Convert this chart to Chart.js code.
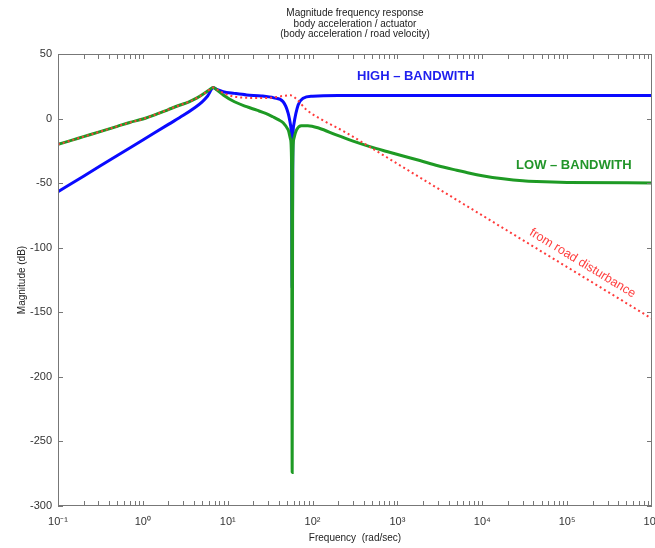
<!DOCTYPE html>
<html>
<head>
<meta charset="utf-8">
<script src="https://cdn.jsdelivr.net/npm/chart.js@4/dist/chart.umd.min.js"></script>
<style>
  html, body { margin: 0; padding: 0; background: #fff; }
</style>
</head>
<body>
<canvas id="bode" width="655" height="548"></canvas>
<script>
// frequencies in rad/sec, magnitudes in dB
let roadFreq = [0.1, 0.15, 0.2, 0.3, 0.5, 0.7, 1, 1.5, 2, 2.7, 3.5, 4.3, 5.15, 6, 6.75, 7.5, 9, 12, 20, 30, 45, 55, 65, 85, 122, 250, 473, 1167, 1e4, 1e5, 1e6];
let roadDb   = [-20, -16.5, -14, -10.5, -6, -3, -0.3, 3.8, 7, 10.3, 13, 15.8, 19, 22, 24, 22.5, 19.5, 17, 16, 16, 17.5, 18, 15, 6.7, 0, -11, -22, -37.7, -75, -115, -155];

let lowFreq = [0.1, 0.15, 0.2, 0.3, 0.5, 0.7, 1, 1.5, 2, 2.7, 3.5, 4.3, 5.15, 6, 6.75, 7.5, 8.85, 12, 16.7, 22, 28, 34, 40, 45, 51.6, 55, 56.7, 57.5, 58.3, 60, 64.7, 74, 88, 120, 190, 300, 473, 750, 1167, 1837, 3000, 5000, 7130, 1e4, 17600, 30000, 43500, 1e5, 1e6];
let lowDb   = [-20, -16.5, -14, -10.5, -6, -3, -0.3, 3.8, 7, 10.3, 13, 15.8, 19, 22, 24, 22, 18.3, 13, 9.2, 6.5, 4, 1.4, -1, -3.3, -8.8, -16, -40, -274, -40, -16, -8.8, -5.5, -5.5, -7.5, -12.7, -17.5, -21.7, -25.5, -29, -32.5, -36.5, -40, -42.3, -44.2, -46.6, -48.2, -48.8, -49.5, -49.8];

let highFreq = [0.1, 0.2, 0.5, 1, 2, 3, 4, 5, 5.8, 6.75, 7.5, 8.85, 12, 16.7, 25, 35, 45, 51.6, 55, 56.5, 57.5, 58.5, 60, 67.6, 77.5, 100, 200, 1e3, 1e6];
let highDb   = [-56.6, -44.6, -28.6, -16.6, -4.5, 2.5, 8, 13, 17.5, 23.8, 22.5, 20.8, 19.5, 18.3, 17.5, 16, 13, 4, -5, -20, -131, -20, -5, 10.5, 15.7, 17.3, 17.8, 17.8, 17.8];

let decades = [0.1, 1, 10, 100, 1e3, 1e4, 1e5, 1e6];
let decadeLabels = ['10⁻¹', '10⁰', '10¹', '10²', '10³', '10⁴', '10⁵', '10⁶'];
let dbTicks = [-300, -250, -200, -150, -100, -50, 0, 50];

function toPoints(freq, db) {
  return freq.map((f, i) => ({ x: f, y: db[i] }));
}

Chart.defaults.font.family = '"Liberation Sans", Arial, sans-serif';
Chart.defaults.color = '#333';

// matlab style frame: full box with inward ticks on all sides
let frameTicks = {
  id: 'frameTicks',
  afterDraw(chart) {
    let { ctx, chartArea: a, scales: { x, y } } = chart;
    ctx.save();
    ctx.strokeStyle = '#777';
    ctx.lineWidth = 1;
    ctx.strokeRect(a.left + 0.5, a.top + 0.5, a.right - a.left - 1, a.bottom - a.top - 1);
    ctx.beginPath();
    dbTicks.forEach(v => {
      let py = Math.round(y.getPixelForValue(v)) + 0.5;
      ctx.moveTo(a.left, py); ctx.lineTo(a.left + 5, py);
      ctx.moveTo(a.right, py); ctx.lineTo(a.right - 5, py);
    });
    for (let d = -1; d <= 5; d++) {
      for (let m = 1; m <= 9; m++) {
        let px = Math.round(x.getPixelForValue(m * Math.pow(10, d))) + 0.5;
        ctx.moveTo(px, a.bottom); ctx.lineTo(px, a.bottom - 5);
        ctx.moveTo(px, a.top); ctx.lineTo(px, a.top + 5);
      }
    }
    ctx.stroke();
    ctx.restore();
  }
};

// text notes placed in data units
let notes = [
  { text: 'HIGH – BANDWITH', f: 1650, db: 33, color: '#1f1fee', font: 'bold 13px "Liberation Sans", Arial', angle: 0 },
  { text: 'LOW – BANDWITH', f: 1.2e5, db: -36, color: '#22952a', font: 'bold 13px "Liberation Sans", Arial', angle: 0 },
  { text: 'from road disturbance', f: 1.52e5, db: -112, color: '#ff4040', font: '12.5px "Liberation Sans", Arial', angle: 31.3 }
];

let notePlugin = {
  id: 'notes',
  afterDatasetsDraw(chart) {
    let { ctx, scales: { x, y } } = chart;
    notes.forEach(n => {
      ctx.save();
      ctx.translate(x.getPixelForValue(n.f), y.getPixelForValue(n.db));
      ctx.rotate(n.angle * Math.PI / 180);
      ctx.font = n.font;
      ctx.fillStyle = n.color;
      ctx.textAlign = 'center';
      ctx.textBaseline = 'middle';
      ctx.fillText(n.text, 0, 0);
      ctx.restore();
    });
  }
};

new Chart(document.getElementById('bode').getContext('2d'), {
  type: 'line',
  data: {
    datasets: [{
      label: 'from road disturbance',
      data: toPoints(roadFreq, roadDb),
      borderColor: '#ff3b3b',
      borderWidth: 2,
      borderDash: [2, 3],
      pointRadius: 0,
      cubicInterpolationMode: 'monotone'
    }, {
      label: 'LOW - BANDWITH',
      data: toPoints(lowFreq, lowDb),
      borderColor: '#1e9a24',
      borderWidth: 3,
      pointRadius: 0,
      cubicInterpolationMode: 'monotone'
    }, {
      label: 'HIGH - BANDWITH',
      data: toPoints(highFreq, highDb),
      borderColor: '#0a0aff',
      borderWidth: 3,
      pointRadius: 0,
      cubicInterpolationMode: 'monotone'
    }]
  },
  options: {
    responsive: false,
    animation: false,
    devicePixelRatio: 1,
    layout: { padding: { left: 0, right: 3, top: 0, bottom: 0 } },
    plugins: {
      legend: { display: false },
      tooltip: { enabled: false },
      title: {
        display: true,
        fullSize: false,
        text: ['Magnitude frequency response', 'body acceleration / actuator', '(body acceleration / road velocity)'],
        color: '#222',
        font: { size: 10, weight: 'normal', lineHeight: 1.05 },
        padding: { top: 8, bottom: 14.5 }
      }
    },
    scales: {
      x: {
        type: 'logarithmic',
        min: 0.1,
        max: 1e6,
        grid: { display: false, drawTicks: false, tickLength: 0 },
        border: { display: false },
        afterBuildTicks: s => { s.ticks = decades.map(v => ({ value: v })); },
        afterFit: s => { s.height = 42; s.paddingLeft = 0; s.paddingRight = 0; },
        ticks: {
          autoSkip: false,
          maxRotation: 0,
          padding: 9,
          font: { size: 11 },
          callback: (v, i) => decadeLabels[i]
        },
        title: {
          display: true,
          text: 'Frequency  (rad/sec)',
          color: '#222',
          font: { size: 10 },
          padding: { top: 4, bottom: 4 }
        }
      },
      y: {
        min: -300,
        max: 50,
        grid: { display: false, drawTicks: false, tickLength: 0 },
        border: { display: false },
        afterBuildTicks: s => { s.ticks = dbTicks.map(v => ({ value: v })); },
        afterFit: s => { s.width = 58; s.paddingTop = 0; s.paddingBottom = 0; },
        ticks: { padding: 6, font: { size: 11 } },
        title: {
          display: true,
          text: 'Magnitude (dB)',
          color: '#222',
          font: { size: 10 },
          padding: { top: 16, bottom: 0 }
        }
      }
    }
  },
  plugins: [frameTicks, notePlugin]
});
</script>
</body>
</html>
